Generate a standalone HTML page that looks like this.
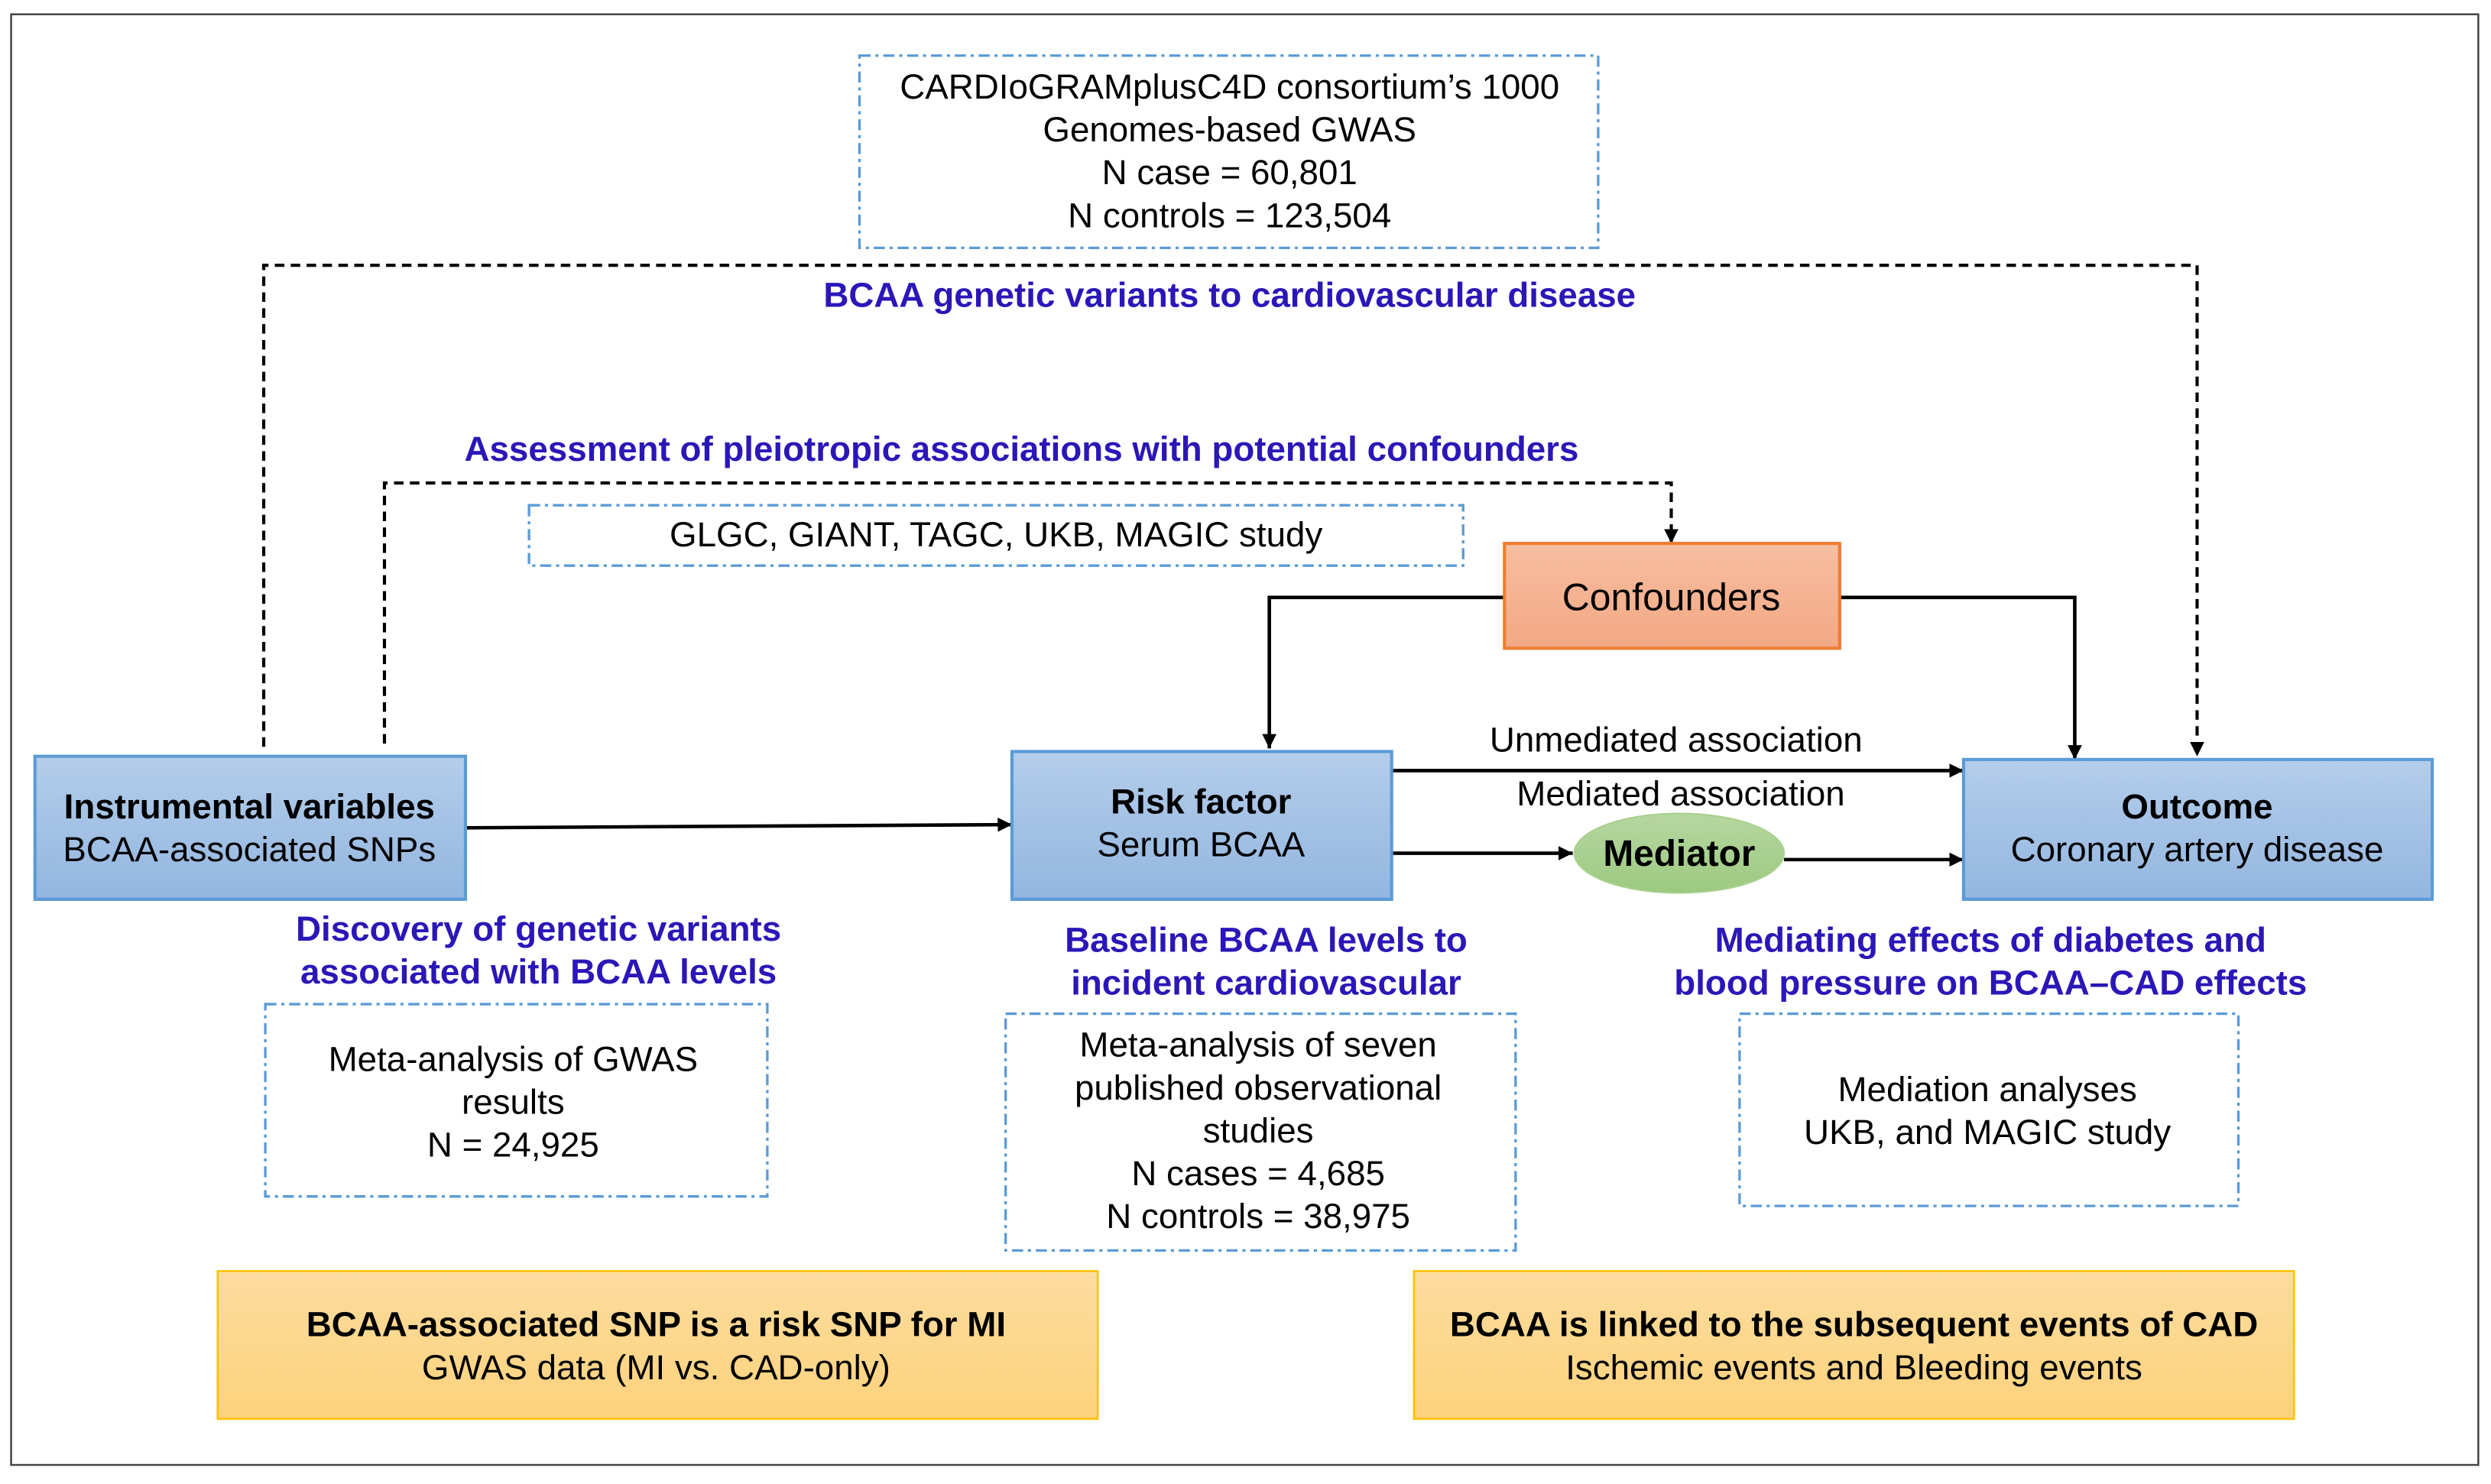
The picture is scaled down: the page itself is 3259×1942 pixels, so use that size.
<!DOCTYPE html>
<html><head><meta charset="utf-8"><style>
html,body{margin:0;padding:0;background:#fff;}
svg{display:block;}
text{font-family:"Liberation Sans",Arial,sans-serif;}
</style></head><body>
<svg width="3259" height="1942" viewBox="0 0 1568 934" preserveAspectRatio="none" xmlns="http://www.w3.org/2000/svg">
<defs>
<linearGradient id="bl" x1="0" y1="0" x2="0" y2="1"><stop offset="0" stop-color="#b4cdea"/><stop offset="1" stop-color="#93b6e0"/></linearGradient>
<linearGradient id="or" x1="0" y1="0" x2="0" y2="1"><stop offset="0" stop-color="#f6bea0"/><stop offset="1" stop-color="#f3a884"/></linearGradient>
<linearGradient id="gr" x1="0" y1="0" x2="0" y2="1"><stop offset="0" stop-color="#b6d7a0"/><stop offset="1" stop-color="#9cc980"/></linearGradient>
<linearGradient id="ye" x1="0" y1="0" x2="0" y2="1"><stop offset="0" stop-color="#fcdc9e"/><stop offset="1" stop-color="#fdd27c"/></linearGradient>
<marker id="ah" viewBox="0 0 10 10" refX="10" refY="5" markerWidth="9" markerHeight="9" markerUnits="userSpaceOnUse" orient="auto"><path d="M0,0 L10,5 L0,10 z" fill="#000"/></marker>
</defs>
<rect x="0" y="0" width="1568" height="934" fill="#fff"/>
<rect x="7" y="9" width="1553" height="913" fill="none" stroke="#444" stroke-width="1.2"/>

<g fill="none" stroke="#5b9bd5" stroke-width="1.6" stroke-dasharray="7,3,2,3">
<rect x="541" y="35" width="465" height="121"/>
<rect x="333" y="318" width="588" height="38"/>
<rect x="167" y="632" width="316" height="121"/>
<rect x="633" y="638" width="321" height="149"/>
<rect x="1095" y="638" width="314" height="121"/>
</g>

<g fill="none" stroke="#000" stroke-width="2" stroke-dasharray="6,4">
<path d="M166,470 L166,167 L1383,167 L1383,476" marker-end="url(#ah)"/>
<path d="M242,468 L242,304 L1052,304 L1052,342" marker-end="url(#ah)"/>
</g>

<g fill="none" stroke="#000" stroke-width="2.2">
<path d="M947,376 L799,376 L799,471" marker-end="url(#ah)"/>
<path d="M1158,376 L1306,376 L1306,478" marker-end="url(#ah)"/>
<path d="M293,521 L637,519" marker-end="url(#ah)"/>
<path d="M876,485 L1236,485" marker-end="url(#ah)"/>
<path d="M874,537 L990,537" marker-end="url(#ah)"/>
<path d="M1123,541 L1236,541" marker-end="url(#ah)"/>
</g>

<rect x="947" y="342" width="211" height="66" fill="url(#or)" stroke="#ed7d31" stroke-width="2"/>
<rect x="22" y="476" width="271" height="90" fill="url(#bl)" stroke="#5b9bd5" stroke-width="2"/>
<rect x="637" y="473" width="239" height="93" fill="url(#bl)" stroke="#5b9bd5" stroke-width="2"/>
<rect x="1236" y="478" width="295" height="88" fill="url(#bl)" stroke="#5b9bd5" stroke-width="2"/>
<ellipse cx="1057" cy="537" rx="66" ry="25" fill="url(#gr)" stroke="#a9d08e" stroke-width="1"/>
<rect x="137" y="800" width="554" height="93" fill="url(#ye)" stroke="#ffc000" stroke-width="1.2"/>
<rect x="890" y="800" width="554" height="93" fill="url(#ye)" stroke="#ffc000" stroke-width="1.2"/>

<g font-size="22" fill="#000" text-anchor="middle">
<text x="774" y="62">CARDIoGRAMplusC4D consortium’s 1000</text>
<text x="774" y="89">Genomes-based GWAS</text>
<text x="774" y="116">N case = 60,801</text>
<text x="774" y="143">N controls = 123,504</text>
<text x="627" y="344">GLGC, GIANT, TAGC, UKB, MAGIC study</text>
<text x="1052" y="384" font-size="24">Confounders</text>
<text x="157" y="515" font-weight="bold">Instrumental variables</text>
<text x="157" y="542">BCAA-associated SNPs</text>
<text x="756" y="512" font-weight="bold">Risk factor</text>
<text x="756" y="539">Serum BCAA</text>
<text x="1383" y="515" font-weight="bold">Outcome</text>
<text x="1383" y="542">Coronary  artery disease</text>
<text x="1055" y="473">Unmediated association</text>
<text x="1058" y="507">Mediated association</text>
<text x="1057" y="545" font-weight="bold" font-size="23">Mediator</text>
<text x="323" y="674">Meta-analysis of GWAS</text>
<text x="323" y="701">results</text>
<text x="323" y="728">N = 24,925</text>
<text x="792" y="665">Meta-analysis of seven</text>
<text x="792" y="692">published observational</text>
<text x="792" y="719">studies</text>
<text x="792" y="746">N cases = 4,685</text>
<text x="792" y="773">N controls = 38,975</text>
<text x="1251" y="693">Mediation analyses</text>
<text x="1251" y="720">UKB, and MAGIC study</text>
<text x="413" y="841" font-weight="bold">BCAA-associated  SNP is a risk SNP for MI</text>
<text x="413" y="868">GWAS data (MI vs. CAD-only)</text>
<text x="1167" y="841" font-weight="bold">BCAA  is linked to the subsequent events of CAD</text>
<text x="1167" y="868">Ischemic events and Bleeding events</text>
</g>

<g font-size="22" fill="#2a17b8" font-weight="bold" text-anchor="middle">
<text x="774" y="193">BCAA  genetic variants to cardiovascular disease</text>
<text x="643" y="290">Assessment of pleiotropic associations with potential confounders</text>
<text x="339" y="592">Discovery of genetic variants</text>
<text x="339" y="619">associated with BCAA  levels</text>
<text x="797" y="599">Baseline BCAA  levels to</text>
<text x="797" y="626">incident cardiovascular</text>
<text x="1253" y="599">Mediating effects of diabetes and</text>
<text x="1253" y="626">blood pressure on BCAA–CAD  effects</text>
</g>
</svg>
</body></html>
